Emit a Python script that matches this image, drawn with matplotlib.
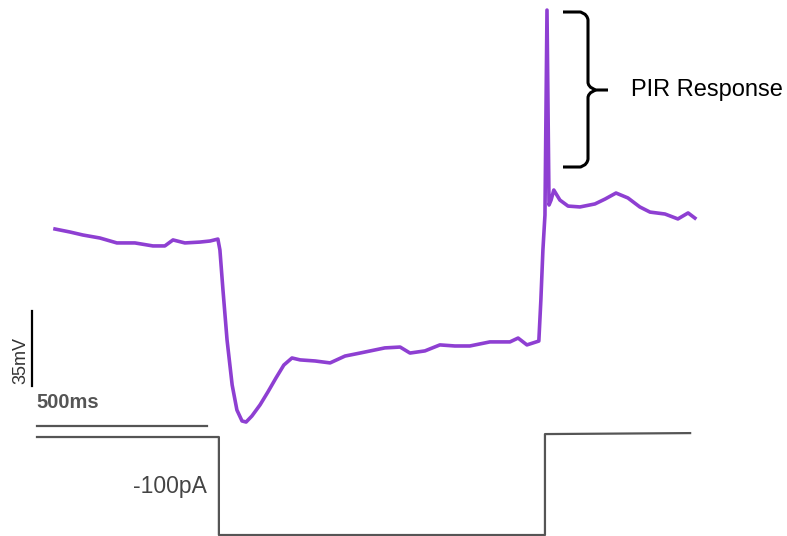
import matplotlib
matplotlib.use("Agg")
import matplotlib.pyplot as plt
from matplotlib.path import Path
from matplotlib.patches import PathPatch
from matplotlib.transforms import Affine2D

# ---- data ----
time_ms = [53, 97, 135, 185, 235, 288, 341, 376, 400, 435, 479, 509, 532,
           538, 547, 559, 574, 588, 603, 615, 632, 656, 679, 703, 726, 750,
           774, 818, 862, 906, 950, 1023, 1068, 1097, 1141, 1185, 1229, 1273,
           1332, 1391, 1415, 1441, 1476, 1482, 1488, 1494, 1500, 1506, 1512,
           1520, 1538, 1562, 1597, 1641, 1671, 1703, 1738, 1773, 1803, 1847,
           1885, 1915, 1935]
voltage_mv = [-60.0, -61.4, -62.8, -64.2, -66.5, -66.5, -67.9, -67.9, -65.1,
              -66.5, -66.1, -65.6, -64.7, -69.8, -88.5, -111.8, -132.8, -144.5,
              -149.6, -150.1, -147.3, -142.1, -136.1, -129.5, -123.5, -120.2,
              -121.1, -121.6, -122.5, -119.3, -117.9, -115.5, -115.1, -117.9,
              -116.9, -114.1, -114.6, -114.6, -112.7, -112.7, -110.9, -114.1,
              -112.3, -93.1, -69.8, -53.5, 42.2, -48.8, -46.5, -41.8, -46.5,
              -49.3, -49.7, -48.3, -46.0, -43.2, -45.5, -49.7, -52.1, -53.0,
              -55.3, -52.5, -54.9]

current_t = [0, 535, 535, 1494, 1494, 1921]
current_pa = [0, 0, -100, -100, 3, 4]

scale_t = 500   # ms
scale_v = 35    # mV

W, H = 787, 536
fig = plt.figure(figsize=(W / 100, H / 100), dpi=100)
ax = fig.add_axes([0, 0, 1, 1])
ax.set_xlim(-108.8, 2205.9)
ax.set_ylim(-203.3, 46.9)
ax.axis("off")

ax2 = fig.add_axes([0, 0, 1, 1], sharex=ax)
ax2.set_ylim(-101.0, 445.9)
ax2.axis("off")
ax2.patch.set_alpha(0)

purple = "#8e3fd2"
ax.plot(time_ms, voltage_mv, color=purple, lw=2.6, solid_joinstyle="round")
ax2.plot(current_t, current_pa, color="#555555", lw=1.6)

# scale bars
ax.plot([0, scale_t], [-152.1, -152.1], color="#555555", lw=1.6)
ax.plot([-14, -14], [-133.4, -133.4 + scale_v], color="black", lw=1.6)

# pixel-space transform for annotations
pix = Affine2D().scale(1, -1).translate(0, H)

ax.text(36, 403, "500ms", transform=pix, fontsize=14.5, fontweight="bold",
        color="#555555", family="Liberation Sans", ha="left", va="center")
ax.text(21, 361, "35mV", transform=pix, fontsize=13, color="#333333",
        family="Liberation Sans", rotation=90, ha="center", va="center")
ax.text(207, 487, "-100pA", transform=pix, fontsize=16.5, color="#444444",
        family="Liberation Sans", ha="right", va="center")
ax.text(631, 90, "PIR Response", transform=pix, fontsize=17, color="black",
        family="Liberation Sans", ha="left", va="center")

# curly brace
verts = [(563, 12), (580, 12), (580, 12), (587, 13), (588, 20),
         (588, 82), (588, 88), (596, 90), (596, 90), (608, 90)]
codes = [Path.MOVETO, Path.LINETO, Path.CURVE4, Path.CURVE4, Path.CURVE4,
         Path.LINETO, Path.CURVE4, Path.CURVE4, Path.CURVE4, Path.LINETO]
verts2 = [(563, 167), (580, 167), (580, 167), (587, 166), (588, 159),
          (588, 98), (588, 92), (596, 90), (596, 90)]
codes2 = [Path.MOVETO, Path.LINETO, Path.CURVE4, Path.CURVE4, Path.CURVE4,
          Path.LINETO, Path.CURVE4, Path.CURVE4, Path.CURVE4]
for v, c in [(verts, codes), (verts2, codes2)]:
    p = PathPatch(Path(v, c), transform=pix, fill=False, lw=2.2,
                  edgecolor="black", capstyle="butt")
    ax.add_patch(p)

fig.savefig("out.png", dpi=100)
